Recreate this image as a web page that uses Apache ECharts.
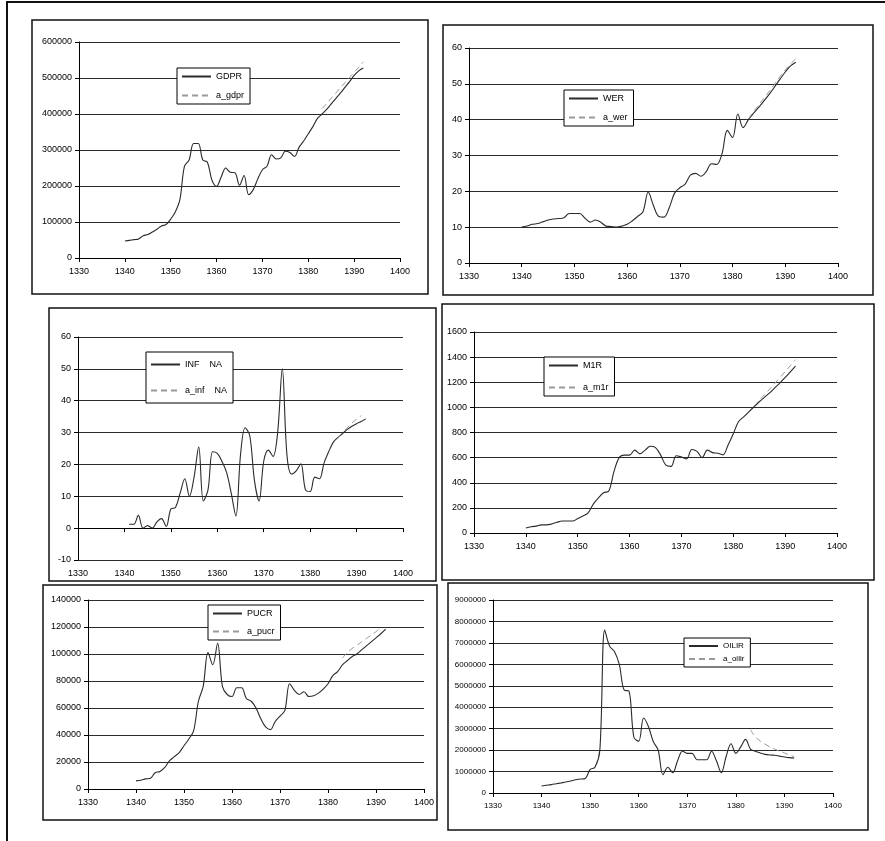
<!DOCTYPE html>
<html>
<head>
<meta charset="utf-8">
<script src="https://cdn.jsdelivr.net/npm/echarts@6/dist/echarts.min.js"></script>
<style>
  html, body { margin: 0; padding: 0; background: #fff; }
  #main { width: 885px; height: 841px; }
</style>
</head>
<body>
<div id="main"></div>
<script>
// years 1340..1392
var years = [1340, 1341, 1342, 1343, 1344, 1345, 1346, 1347, 1348, 1349,
  1350, 1351, 1352, 1353, 1354, 1355, 1356, 1357, 1358, 1359,
  1360, 1361, 1362, 1363, 1364, 1365, 1366, 1367, 1368, 1369,
  1370, 1371, 1372, 1373, 1374, 1375, 1376, 1377, 1378, 1379,
  1380, 1381, 1382, 1383, 1384, 1385, 1386, 1387, 1388, 1389,
  1390, 1391, 1392];
var infYears = years.slice(1); // inflation starts 1341

var gdpr = [47000, 49000, 51000, 53000, 62000, 65000, 72000, 80000, 89000, 93000,
  108000, 128000, 162000, 255000, 272000, 318000, 318000, 272000, 266000, 216000,
  199000, 225000, 250000, 238000, 237000, 202000, 229000, 176000, 190000, 220000,
  245000, 255000, 287000, 275000, 278000, 297000, 293000, 282000, 308000, 325000,
  345000, 365000, 388000, 400000, 413000, 428000, 443000, 458000, 474000, 490000,
  507000, 520000, 528000];
var aGdprYears = [1383, 1384, 1385, 1386, 1387, 1388, 1389, 1390, 1391, 1392];
var aGdpr = [415000, 429000, 444000, 458000, 473000, 487000, 502000, 516000, 530000, 545000];

var wer = [10, 10.3, 10.8, 11, 11.5, 12, 12.3, 12.4, 12.6, 13.8,
  13.8, 13.8, 12.5, 11.4, 12, 11.4, 10.3, 10.2, 10, 10.3,
  10.8, 11.8, 13, 14.3, 19.8, 16, 13, 12.8, 15.5, 19.5,
  21, 22, 24.5, 25, 24.2, 25.5, 27.7, 27.5, 30.5, 37,
  35, 41.6, 37.8, 40, 41.8, 43.5, 45.3, 47.2, 49.2, 51.3,
  53.3, 55, 56];
var aWerYears = [1383, 1384, 1385, 1386, 1387, 1388, 1389, 1390, 1391, 1392];
var aWer = [40.2, 42.3, 44.2, 46.1, 48, 50, 52, 53.9, 55.6, 57];

var inf = [1.2, 1.2, 4, 0, 0.8, 0, 2, 3, 0.5,
  6, 6.5, 11, 15.5, 10, 16, 25.5, 8.5, 12, 24,
  23.5, 21, 17.5, 11, 3.8, 23, 31.5, 29, 15, 8.5,
  21, 24.5, 22.5, 30, 50, 23, 17, 18, 20.2, 12,
  11.5, 16, 15.5, 20.5, 24, 27, 28.5, 29.7, 31, 32,
  32.8, 33.5, 34.3];
var aInfYears = [1386, 1387, 1388, 1389, 1390, 1391];
var aInf = [28.5, 30, 31.5, 33, 34.2, 35.3];

var m1r = [40, 50, 55, 65, 65, 72, 85, 95, 95, 95,
  115, 135, 160, 230, 280, 320, 335, 490, 600, 620,
  620, 660, 630, 660, 690, 680, 620, 540, 530, 615,
  605, 590, 665, 650, 600, 660, 640, 635, 622, 700,
  790, 885, 925, 965, 1005, 1045, 1080, 1115, 1155, 1195,
  1238, 1283, 1328];
var aM1rYears = [1384, 1385, 1386, 1387, 1388, 1389, 1390, 1391, 1392];
var aM1r = [1010, 1055, 1100, 1145, 1190, 1238, 1285, 1332, 1380];

var pucr = [6000, 6500, 7500, 8000, 12000, 13000, 16000, 21000, 24000, 27000,
  32000, 37000, 43000, 65000, 76000, 101000, 92000, 108000, 76000, 70000,
  68500, 75000, 75000, 67000, 65000, 60000, 52000, 46000, 44000, 50000,
  54000, 58000, 78000, 73000, 70000, 72000, 68500, 69000, 71000, 74000,
  78000, 84000, 87000, 92000, 95000, 98000, 100000, 103000, 106000, 109000,
  112000, 115000, 118500];
var aPucrYears = [1383, 1384, 1385, 1386, 1387, 1388, 1389, 1390, 1391];
var aPucr = [97000, 101000, 104000, 106500, 109000, 111500, 114000, 116500, 119500];

var oilir = [330000, 360000, 390000, 430000, 470000, 510000, 560000, 620000, 650000, 680000,
  1100000, 1200000, 2000000, 7600000, 6850000, 6600000, 6000000, 4800000, 4750000, 2600000,
  2420000, 3500000, 3100000, 2400000, 2000000, 850000, 1200000, 950000, 1500000, 1950000,
  1850000, 1850000, 1550000, 1550000, 1550000, 1950000, 1500000, 950000, 1700000, 2300000,
  1850000, 2150000, 2500000, 2050000, 1950000, 1870000, 1800000, 1770000, 1760000, 1720000,
  1680000, 1650000, 1640000];
var aOilirYears = [1383, 1384, 1385, 1386, 1387, 1388, 1389, 1390, 1391, 1392];
var aOilir = [2950000, 2620000, 2420000, 2280000, 2150000, 2050000, 1950000, 1870000, 1780000, 1700000];

var xTicks = [1330, 1400, 10];

function pairs(xs, ys) {
  var out = [];
  for (var i = 0; i < ys.length; i++) out.push([xs[i], ys[i]]);
  return out;
}

var FONT = "'Liberation Sans', Arial, sans-serif";

var panels = [
  { grid: [79, 42, 321, 216], y: [0, 600000, 100000],
    s1: ['GDPR', pairs(years, gdpr)], s2: ['a_gdpr', pairs(aGdprYears, aGdpr)],
    leg: [177, 68, 20], box: [32, 20, 396, 274] },
  { grid: [469, 48, 369, 215], y: [0, 60, 10],
    s1: ['WER', pairs(years, wer)], s2: ['a_wer', pairs(aWerYears, aWer)],
    leg: [564, 90, 20], box: [443, 25, 430, 270] },
  { grid: [78, 337, 325, 223], y: [-10, 60, 10],
    s1: ['INF', pairs(infYears, inf)], s2: ['a_inf', pairs(aInfYears, aInf)],
    leg: [146, 352, 27], box: [49, 308, 387, 273], na: true },
  { grid: [474, 332, 363, 201], y: [0, 1600, 200],
    s1: ['M1R', pairs(years, m1r)], s2: ['a_m1r', pairs(aM1rYears, aM1r)],
    leg: [544, 357, 23], box: [442, 304, 432, 276] },
  { grid: [88, 600, 336, 189], y: [0, 140000, 20000],
    s1: ['PUCR', pairs(years, pucr)], s2: ['a_pucr', pairs(aPucrYears, aPucr)],
    leg: [208, 605, 19], box: [43, 585, 394, 235] },
  { grid: [493, 600, 340, 193], y: [0, 9000000, 1000000],
    s1: ['OILIR', pairs(years, oilir)], s2: ['a_oilir', pairs(aOilirYears, aOilir)],
    leg: [684, 638, 15], box: [448, 583, 420, 247], small: true }
];

var option = {
  animation: false,
  backgroundColor: '#fff',
  textStyle: { fontFamily: FONT },
  grid: [], xAxis: [], yAxis: [], series: [], legend: [],
  graphic: [{
    type: 'polyline',
    shape: { points: [[7, 841], [7, 2], [885, 2]] },
    style: { fill: null, stroke: '#111', lineWidth: 2 }
  }]
};

panels.forEach(function (p, i) {
  var fs = p.small ? 8 : 9;
  option.grid.push({ left: p.grid[0], top: p.grid[1], width: p.grid[2], height: p.grid[3] });
  option.xAxis.push({
    type: 'value', gridIndex: i, min: xTicks[0], max: xTicks[1], interval: xTicks[2],
    splitLine: { show: false },
    axisLine: { onZero: true, lineStyle: { color: '#000', width: 1 } },
    axisTick: { show: true, length: 4, lineStyle: { color: '#000' } },
    axisLabel: { color: '#000', fontSize: fs, margin: 9, fontFamily: FONT,
      formatter: function (v) { return String(v); } }
  });
  option.yAxis.push({
    type: 'value', gridIndex: i, min: p.y[0], max: p.y[1], interval: p.y[2],
    splitLine: { show: true, lineStyle: { color: '#2a2a2a', width: 1 } },
    axisLine: { show: true, onZero: false, lineStyle: { color: '#000', width: 1 } },
    axisTick: { show: true, length: 4, lineStyle: { color: '#000' } },
    axisLabel: { color: '#000', fontSize: fs, margin: 7, fontFamily: FONT,
      formatter: function (v) { return String(v); } }
  });
  option.series.push({
    name: p.s1[0], type: 'line', xAxisIndex: i, yAxisIndex: i, data: p.s1[1],
    symbol: 'none', smooth: 0.35, lineStyle: { color: '#2b2b2b', width: 1.1 }, itemStyle: { color: '#2b2b2b' }
  });
  option.series.push({
    name: p.s2[0], type: 'line', xAxisIndex: i, yAxisIndex: i, data: p.s2[1],
    symbol: 'none', smooth: 0.35, lineStyle: { color: '#9a9a9a', width: 1, type: [6, 4] },
    itemStyle: { color: '#9a9a9a' }
  });
  option.legend.push({
    data: [p.s1[0], p.s2[0]], orient: 'vertical', left: p.leg[0], top: p.leg[1],
    itemWidth: 29, itemHeight: 10, itemGap: p.leg[2] - 10,
    padding: [p.na ? 8 : 4, 6, p.na ? 8 : 4, 4],
    borderColor: '#000', borderWidth: 1, backgroundColor: '#fff',
    itemStyle: { opacity: 0 },
    textStyle: { color: '#000', fontSize: p.small ? 8 : 9, fontFamily: FONT },
    formatter: p.na ? function (n) { return n + '    NA'; } : '{name}',
    selectedMode: false
  });
  option.graphic.push({
    type: 'rect',
    shape: { x: p.box[0], y: p.box[1], width: p.box[2], height: p.box[3] },
    style: { fill: null, stroke: '#111', lineWidth: 1.5 }
  });
});

var chart = echarts.init(document.getElementById('main'));
chart.setOption(option);
</script>
</body>
</html>
